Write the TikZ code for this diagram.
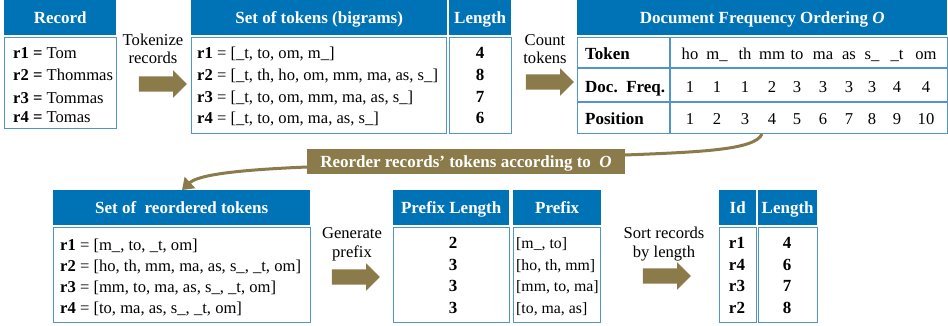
\documentclass[tikz,border=0pt]{standalone}
\usepackage{fontspec}
\setmainfont{Liberation Serif}
\usetikzlibrary{shapes.arrows,arrows.meta}
\definecolor{hdrblue}{RGB}{0,115,182}
\definecolor{bodyblue}{RGB}{80,148,202}
\definecolor{olivec}{RGB}{139,123,74}
\begin{document}
\begin{tikzpicture}[x=1pt,y=-1pt,
  font=\fontsize{16.6}{18.5}\selectfont,
  hdr/.style={fill=hdrblue, text=white, font=\fontsize{17}{18.5}\selectfont\bfseries,
    inner sep=0pt, anchor=north west, minimum height=35pt, text height=13pt, text depth=2pt},
  bodybox/.style={draw=bodyblue, line width=1.2pt, inner sep=0pt, anchor=north west},
  tline/.style={draw=bodyblue, line width=1.2pt},
  txt/.style={inner sep=0pt, anchor=base west},
  ctxt/.style={inner sep=0pt, anchor=base},
  btxt/.style={inner sep=0pt, anchor=base, font=\fontsize{17}{18.5}\selectfont\bfseries},
  fat/.style={single arrow, fill=olivec, inner xsep=0pt, inner ysep=7.5pt, minimum height=48pt,
    minimum width=27pt, single arrow head extend=6pt, single arrow tip angle=90},
  lbl/.style={fill=olivec, text=white, font=\fontsize{17}{18.5}\selectfont\bfseries,
    inner sep=0pt, minimum height=25pt, text height=13pt, text depth=2pt},
  reorderline/.style={draw=olivec, line width=3pt, -{Triangle[length=11pt,width=15pt]}}
]
\useasboundingbox (0,0) rectangle (948,325);

% ---------- top row ----------
\node[hdr, minimum width=112pt] (rech) at (4,0) {Record};
\node[bodybox, minimum width=112pt, minimum height=91pt] (recb) at (4,37) {};
\node[txt] (rec1) at (13,58) {\textbf{r1 =} Tom};
\node[txt] (rec2) at (13,80) {\textbf{r2 =} Thommas};
\node[txt] (rec3) at (13,103) {\textbf{r3 =} Tommas};
\node[txt] (rec4) at (13,122) {\textbf{r4 =} Tomas};

\node[ctxt] (la1) at (153,45) {Tokenize};
\node[ctxt] (lb1) at (153,63) {records};
\node[fat] (ar1) at (159,84) {};

\node[hdr, minimum width=256pt] (tokh) at (191,0) {Set of tokens (bigrams)};
\node[bodybox, minimum width=255pt, minimum height=96pt] (tokb) at (191,37) {};
\node[txt] (tok1) at (197,58) {\textbf{r1} = [\_t, to, om, m\_]};
\node[txt] (tok2) at (197,80) {\textbf{r2} = [\_t, th, ho, om, mm, ma, as, s\_]};
\node[txt] (tok3) at (197,102) {\textbf{r3} = [\_t, to, om, mm, ma, as, s\_]};
\node[txt] (tok4) at (197,123) {\textbf{r4} = [\_t, to, om, ma, as, s\_]};

\node[hdr, minimum width=62pt] (lenh) at (449,0) {Length};
\node[bodybox, minimum width=62pt, minimum height=96pt] (lenb) at (449,37) {};
\node[btxt] (len1) at (480,58) {4};
\node[btxt] (len2) at (480,80) {8};
\node[btxt] (len3) at (480,102) {7};
\node[btxt] (len4) at (480,123) {6};

\node[ctxt] (la2) at (545,45) {Count};
\node[ctxt] (lb2) at (545,63) {tokens};
\node[fat] (ar2) at (546,82) {};

\node[hdr, minimum width=370pt] (dfoh) at (577,0) {Document Frequency Ordering \textit{O}};
\node[bodybox, minimum width=370pt, minimum height=96pt] (dfob) at (577,37) {};
\draw[tline] (577,68) -- (947,68);
\draw[tline] (577,102) -- (947,102);
\draw[tline] (670,37) -- (670,133);
\node[txt, font=\fontsize{17}{18.5}\selectfont\bfseries] (rtok) at (585,59) {Token};
\node[txt, font=\fontsize{17}{18.5}\selectfont\bfseries] (rdf) at (585,92) {Doc.\ \ Freq.};
\node[txt, font=\fontsize{17}{18.5}\selectfont\bfseries] (rpos) at (585,124) {Position};
\foreach \x/\t/\f/\p [count=\i] in {690/ho/1/1,717/m\_/1/2,745/th/1/3,772/mm/2/4,797/to/3/5,823/ma/3/6,849/as/3/7,872/s\_/3/8,897/\_t/4/9,926/om/4/10}{
  \node[ctxt] (tk\i) at (\x,59) {\t};
  \node[ctxt] (df\i) at (\x,92) {\f};
  \node[ctxt] (ps\i) at (\x,124) {\p};
}

% ---------- bottom row ----------
\node[hdr, minimum width=257pt] (reoh) at (53,190) {Set of\ \ reordered tokens};
\node[bodybox, minimum width=257pt, minimum height=95pt] (reob) at (53,227) {};
\node[txt] (reo1) at (60,250) {\textbf{r1} = [m\_, to, \_t, om]};
\node[txt] (reo2) at (60,271) {\textbf{r2} = [ho, th, mm, ma, as, s\_, \_t, om]};
\node[txt] (reo3) at (60,292) {\textbf{r3} = [mm, to, ma, as, s\_, \_t, om]};
\node[txt] (reo4) at (60,313) {\textbf{r4} = [to, ma, as, s\_, \_t, om]};

\node[ctxt] (la3) at (352,238) {Generate};
\node[ctxt] (lb3) at (352,257) {prefix};
\node[fat] (ar3) at (352,277) {};

\node[hdr, minimum width=116pt] (plh) at (393,190) {Prefix Length};
\node[bodybox, minimum width=116pt, minimum height=95pt] (plb) at (393,227) {};
\node[btxt] (pl1) at (453,248) {2};
\node[btxt] (pl2) at (453,270) {3};
\node[btxt] (pl3) at (453,291) {3};
\node[btxt] (pl4) at (453,313) {3};

\node[hdr, minimum width=88pt] (pfh) at (513,190) {Prefix};
\node[bodybox, minimum width=87pt, minimum height=95pt] (pfb) at (513,227) {};
\node[txt, font=\fontsize{15.8}{18.5}\selectfont] (pf1) at (516,248) {[m\_, to]};
\node[txt, font=\fontsize{15.8}{18.5}\selectfont] (pf2) at (516,270) {[ho, th, mm]};
\node[txt, font=\fontsize{15.8}{18.5}\selectfont] (pf3) at (516,291) {[mm, to, ma]};
\node[txt, font=\fontsize{15.8}{18.5}\selectfont] (pf4) at (516,313) {[to, ma, as]};

\node[ctxt] (la4) at (664,238) {Sort records};
\node[ctxt] (lb4) at (664,257) {by length};
\node[fat] (ar4) at (663,276) {};

\node[hdr, minimum width=37pt] (idh) at (719,190) {Id};
\node[bodybox, minimum width=37pt, minimum height=95pt] (idb) at (719,227) {};
\node[btxt] (id1) at (737,248) {r1};
\node[btxt] (id2) at (737,270) {r4};
\node[btxt] (id3) at (737,291) {r3};
\node[btxt] (id4) at (737,313) {r2};

\node[hdr, minimum width=59pt] (l2h) at (758,190) {Length};
\node[bodybox, minimum width=59pt, minimum height=95pt] (l2b) at (758,227) {};
\node[btxt] (l21) at (787,248) {4};
\node[btxt] (l22) at (787,270) {6};
\node[btxt] (l23) at (787,291) {7};
\node[btxt] (l24) at (787,313) {8};

% ---------- reorder connector ----------
\coordinate (cs) at (762,134);
\coordinate (ce) at (182,190);
\draw[reorderline] (cs) .. controls (755,150) and (700,152) .. (625,155) -- (307,167)
  .. controls (235,170) and (198,175) .. (ce);
\node[lbl, minimum width=318pt] (reord) at (466,161.5) {Reorder records’ tokens according to\ \ \textit{O}};
\end{tikzpicture}
\end{document}
